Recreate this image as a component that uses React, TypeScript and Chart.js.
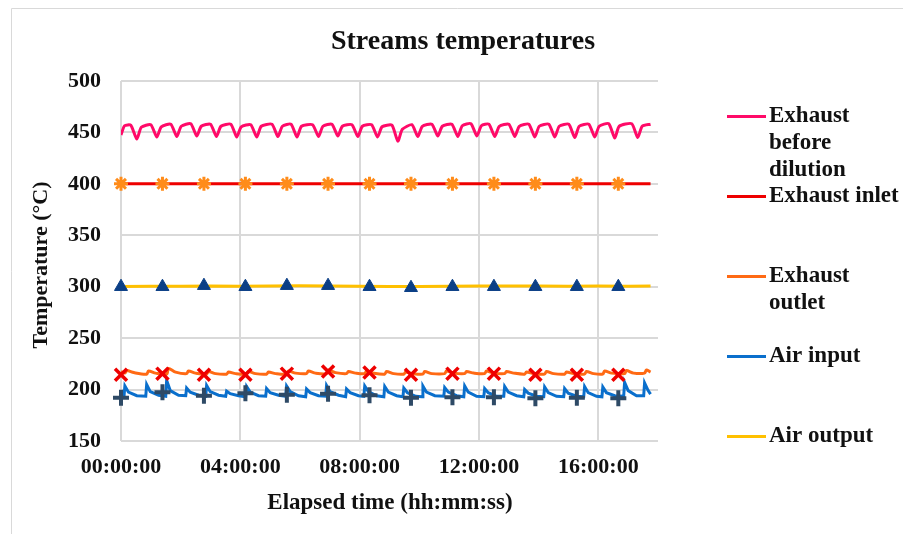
import { useEffect, useRef } from "react";
import { Chart, registerables } from "chart.js";

Chart.register(...registerables);

const SERIF = '"Liberation Serif", "Times New Roman", serif';

// ---- data (time in hours, temperature in °C) ----
const xTickHours = [0, 4, 8, 12, 16];
const xTickLabels = ["00:00:00", "04:00:00", "08:00:00", "12:00:00", "16:00:00"];

const beforeDilutionTime = [
  0, 0.12, 0.33, 0.53, 0.68, 1.0, 1.2, 1.35, 1.67, 1.87, 2.02, 2.34, 2.54, 2.69,
  3.0, 3.2, 3.35, 3.68, 3.88, 4.03, 4.35, 4.55, 4.7, 5.06, 5.26, 5.41, 5.7, 5.9,
  6.05, 6.42, 6.62, 6.77, 7.07, 7.27, 7.42, 7.74, 7.94, 8.09, 8.4, 8.6, 8.75,
  9.08, 9.28, 9.43, 9.75, 9.95, 10.1, 10.42, 10.62, 10.77, 11.09, 11.29, 11.44,
  11.73, 11.93, 12.08, 12.33, 12.53, 12.68, 13.0, 13.2, 13.35, 13.67, 13.87,
  14.02, 14.34, 14.54, 14.69, 15.01, 15.21, 15.36, 15.68, 15.88, 16.03, 16.35,
  16.55, 16.7, 17.12, 17.32, 17.47, 17.75,
];
const beforeDilutionTemp = [
  447.5, 456.5, 457, 443.5, 455, 457.5, 445.5, 455.5, 458, 446, 456, 458.5, 446.5, 456,
  458, 446, 456, 458, 445.5, 455.5, 457.5, 445.5, 456, 458, 446, 456, 458, 445.5,
  456, 457.5, 446, 456, 458, 446.5, 456, 457.5, 446, 456, 457.5, 445.5, 455.5,
  457, 441.5, 453, 457.5, 446, 456, 458, 446.5, 456, 458, 446, 456.5,
  458.5, 446.5, 456.5, 458, 446, 456, 458, 446, 456, 458, 445.5,
  456, 458, 445.5, 456, 458, 445, 456, 458, 445.5, 456, 458.5,
  444.5, 456, 458.5, 445, 456, 458,
];

const inletTime = [0, 17.75];
const inletTemp = [400, 400];

const outletTime = [
  0, 0.13, 0.19, 0.43, 0.86, 0.92, 1.16, 1.53, 1.59, 1.83, 2.2, 2.26, 2.5,
  2.87, 2.93, 3.17, 3.54, 3.6, 3.84, 4.21, 4.27, 4.51, 4.88, 4.94, 5.18,
  5.55, 5.61, 5.85, 6.22, 6.28, 6.52, 6.89, 6.95, 7.19, 7.56, 7.62, 7.86,
  8.17, 8.23, 8.47, 8.84, 8.9, 9.14, 9.48, 9.54, 9.78, 10.12, 10.18, 10.42,
  10.85, 10.91, 11.15, 11.52, 11.58, 11.82, 12.19, 12.25, 12.49, 12.86, 12.92, 13.16,
  13.53, 13.59, 13.83, 14.2, 14.26, 14.5, 14.87, 14.93, 15.17, 15.54, 15.6, 15.84,
  16.15, 16.21, 16.45, 16.88, 16.94, 17.18, 17.55, 17.61, 17.75,
];
const outletTemp = [
  217.5, 216, 218.5, 216.5, 215, 218, 216, 215, 220.5, 217, 215.5, 218, 216,
  215, 217.5, 215.5, 215, 217, 215.5, 215, 217.5, 215.5, 215, 217, 215.5,
  215, 218, 216, 215.5, 218, 216, 215.5, 219, 216.5, 215.5, 217.5, 216,
  215.5, 218, 216, 215, 217.5, 215.5, 215, 217, 215.5, 215, 217.5, 215.5,
  215.5, 218, 216, 215.5, 217.5, 216, 215.5, 218, 216, 215.5, 217.5, 216,
  215, 217, 215.5, 215, 217.5, 215.5, 215, 217, 215.5, 215, 217.5, 215.5,
  215, 218, 216, 215.5, 218.5, 216, 216, 219, 217,
];

const airInputTime = [
  0, 0.1, 0.13, 0.25, 0.53, 0.83, 0.86, 0.98, 1.26, 1.5, 1.53, 1.65, 1.93,
  2.17, 2.2, 2.32, 2.6, 2.84, 2.87, 2.99, 3.27, 3.51, 3.54, 3.66, 3.94,
  4.18, 4.21, 4.33, 4.61, 4.85, 4.88, 5.0, 5.28, 5.52, 5.55, 5.67, 5.95,
  6.19, 6.22, 6.34, 6.62, 6.86, 6.89, 7.01, 7.29, 7.53, 7.56, 7.68, 7.96,
  8.14, 8.17, 8.29, 8.57, 8.81, 8.84, 8.96, 9.24, 9.45, 9.48, 9.6, 9.88,
  10.09, 10.12, 10.24, 10.52, 10.82, 10.85, 10.97, 11.25, 11.49, 11.52, 11.64, 11.92,
  12.16, 12.19, 12.31, 12.59, 12.83, 12.86, 12.98, 13.26, 13.5, 13.53, 13.65, 13.93,
  14.17, 14.2, 14.32, 14.6, 14.84, 14.87, 14.99, 15.27, 15.51, 15.54, 15.66, 15.94,
  16.12, 16.15, 16.27, 16.55, 16.85, 16.88, 17.0, 17.28, 17.52, 17.55, 17.67, 17.75,
];
const airInputTemp = [
  193, 193, 203.5, 197.5, 194, 193.5, 205, 198, 194.5, 193.5, 209, 199, 194.5,
  194, 201.5, 197.5, 194.5, 193.5, 204, 198, 194.5, 193.5, 198.5, 196, 194,
  193, 203, 197.5, 194, 193.5, 201, 197, 194.5, 193.5, 203.5, 198, 194,
  193, 200.5, 197, 194, 193.5, 204, 198, 194.5, 193, 200.5, 197, 194,
  193.5, 203.5, 198, 194, 193, 203, 197.5, 194, 193, 201.5, 197, 193.5,
  193, 203.5, 197.5, 194, 193.5, 202, 197.5, 194, 193, 203.5, 197.5, 193.5,
  193, 201, 197, 193.5, 193.5, 203, 197.5, 194, 193, 200, 196.5, 193.5,
  193, 202.5, 197, 193.5, 193, 201, 196.5, 193.5, 193, 203, 197, 193.5,
  193, 202.5, 197, 194, 193.5, 207, 199, 194, 194, 206.5, 199, 195.5,
];

const airOutputTime = [0, 1, 2, 3, 4, 5, 6, 7, 8, 9, 10, 11, 12, 13, 14, 15, 16, 17, 17.75];
const airOutputTemp = [
  300.2, 300.5, 300.4, 300.8, 300.5, 300.7, 300.9, 300.6, 300.4, 300.3,
  300.2, 300.5, 300.7, 300.8, 300.6, 300.4, 300.6, 300.5, 300.6,
];

// spot measurements plotted as markers only
const markerTime = [0, 1.39, 2.78, 4.17, 5.56, 6.94, 8.33, 9.72, 11.11, 12.5, 13.89, 15.28, 16.67];
const inletMarks = [400, 400, 400, 400, 400, 400, 400, 400, 400, 400, 400, 400, 400];
const airOutputMarks = [300, 300, 301, 300, 301, 301, 300, 299, 300, 300, 300, 300, 300];
const outletMarks = [214.5, 215.5, 214.5, 214.5, 215.5, 217.5, 216.5, 214.5, 215.5, 215.5, 214.5, 214.5, 214.5];
const airInputMarks = [192, 197.5, 194, 196.5, 195, 196, 194.5, 192, 192.5, 192.5, 191.5, 192, 191.5];

const legendLines = [
  ["Exhaust", "before", "dilution"],
  ["Exhaust inlet"],
  ["Exhaust", "outlet"],
  ["Air input"],
  ["Air output"],
];

const COLORS = {
  beforeDilution: "#FF0A68",
  inlet: "#EE0000",
  outlet: "#FF6A14",
  airInput: "#0A6FCC",
  airOutput: "#FFC000",
};
const legendColors = [COLORS.beforeDilution, COLORS.inlet, COLORS.outlet, COLORS.airInput, COLORS.airOutput];

const pts = (xs: number[], ys: number[]) => xs.map((x, i) => ({ x, y: ys[i] }));

const textPlugin = {
  id: "chartTexts",
  afterDraw(chart: any) {
    const ctx = chart.ctx as CanvasRenderingContext2D;
    ctx.save();
    // outer frame (left and top edges)
    ctx.strokeStyle = "#d9d9d9";
    ctx.lineWidth = 1;
    ctx.beginPath();
    ctx.moveTo(11.5, 534);
    ctx.lineTo(11.5, 8.5);
    ctx.lineTo(903, 8.5);
    ctx.stroke();

    ctx.fillStyle = "#111";
    ctx.textAlign = "center";
    ctx.textBaseline = "middle";
    ctx.font = `bold 28px ${SERIF}`;
    ctx.fillText("Streams temperatures", 463, 42);

    ctx.font = `bold 23px ${SERIF}`;
    ctx.fillText("Elapsed time (hh:mm:ss)", 390, 503);

    ctx.save();
    ctx.font = `bold 22px ${SERIF}`;
    ctx.translate(41, 265);
    ctx.rotate(-Math.PI / 2);
    ctx.fillText("Temperature (°C)", 0, 0);
    ctx.restore();

    // legend
    ctx.textAlign = "left";
    ctx.font = `bold 23px ${SERIF}`;
    legendLines.forEach((lines, i) => {
      const y = 116.5 + i * 80;
      ctx.strokeStyle = legendColors[i];
      ctx.lineWidth = 3;
      ctx.beginPath();
      ctx.moveTo(727, y);
      ctx.lineTo(766, y);
      ctx.stroke();
      lines.forEach((t, k) => ctx.fillText(t, 769, y + k * 27));
    });
    ctx.restore();
  },
};

export default function App() {
  const ref = useRef<HTMLCanvasElement | null>(null);

  useEffect(() => {
    document.body.style.margin = "0";
    if (!ref.current) return;

    const line = (label: string, xs: number[], ys: number[], color: string, extra: any = {}) => ({
      label,
      data: pts(xs, ys),
      borderColor: color,
      backgroundColor: color,
      borderWidth: 3,
      pointRadius: 0,
      tension: 0,
      fill: false,
      order: 2,
      ...extra,
    });
    const marks = (label: string, ys: number[], style: string, color: string, radius: number, width: number) => ({
      label,
      data: pts(markerTime, ys),
      showLine: false,
      clip: false,
      pointStyle: style,
      pointRadius: radius,
      pointBorderWidth: width,
      pointBorderColor: color,
      pointBackgroundColor: color,
      borderColor: color,
      backgroundColor: color,
      order: 0,
    });

    const chart = new Chart(ref.current, {
      type: "line",
      data: {
        datasets: [
          line("Exhaust before dilution", beforeDilutionTime, beforeDilutionTemp, COLORS.beforeDilution, { tension: 0.2 }),
          line("Exhaust inlet", inletTime, inletTemp, COLORS.inlet),
          line("Exhaust outlet", outletTime, outletTemp, COLORS.outlet, { tension: 0.3 }),
          line("Air input", airInputTime, airInputTemp, COLORS.airInput),
          line("Air output", airOutputTime, airOutputTemp, COLORS.airOutput),
          marks("Exhaust inlet (spot)", inletMarks, "star", "#FF8C1A", 7, 3),
          marks("Air output (spot)", airOutputMarks, "triangle", "#0B3F86", 7.5, 1),
          marks("Exhaust outlet (spot)", outletMarks, "crossRot", "#EE0000", 8.5, 3.5),
          marks("Air input (spot)", airInputMarks, "cross", "#2E4A66", 8, 4),
        ] as any,
      },
      options: {
        animation: false,
        responsive: false,
        events: [],
        layout: { padding: { left: 0, top: 81, right: 245, bottom: 0 } },
        plugins: {
          legend: { display: false },
          title: { display: false },
          tooltip: { enabled: false },
        },
        scales: {
          x: {
            type: "linear",
            min: 0,
            max: 18,
            afterFit: (s: any) => {
              s.height = 93;
            },
            grid: { color: "#d9d9d9", lineWidth: 2, drawTicks: false },
            border: { display: false },
            ticks: {
              stepSize: 4,
              includeBounds: false,
              autoSkip: false,
              maxRotation: 0,
              padding: 13,
              color: "#111",
              font: { family: SERIF, size: 22, weight: "bold" },
              callback: (v: any) => {
                const i = xTickHours.indexOf(Number(v));
                return i >= 0 ? xTickLabels[i] : "";
              },
            },
          },
          y: {
            min: 150,
            max: 500,
            afterFit: (s: any) => {
              s.width = 121;
            },
            grid: { color: "#d9d9d9", lineWidth: 2, drawTicks: false },
            border: { display: false },
            ticks: {
              stepSize: 50,
              padding: 20,
              color: "#111",
              font: { family: SERIF, size: 22, weight: "bold" },
            },
          },
        },
      } as any,
      plugins: [textPlugin],
    });

    return () => chart.destroy();
  }, []);

  return <canvas ref={ref} width={903} height={534} style={{ display: "block" }} />;
}
